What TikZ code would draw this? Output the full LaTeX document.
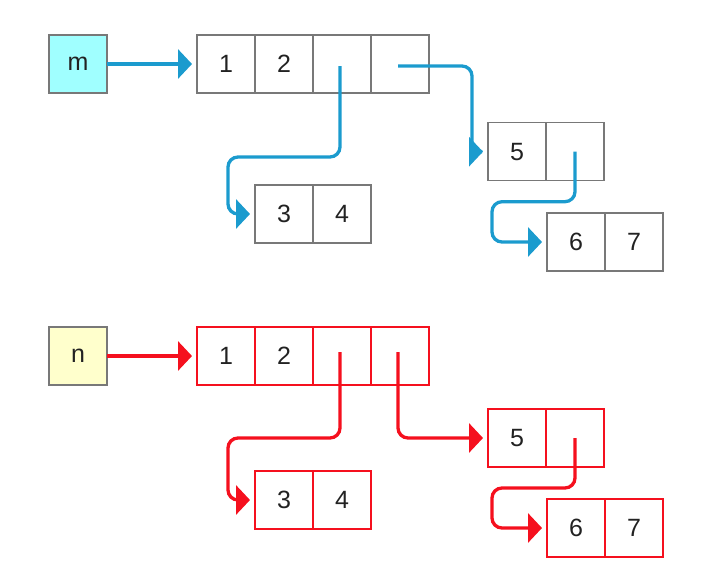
\documentclass[tikz,border=0pt]{standalone}
\usepackage{fontspec}
\setsansfont{Liberation Sans}
\usetikzlibrary{arrows.meta,positioning}
\definecolor{bl}{HTML}{1B9BCE}
\definecolor{rd}{HTML}{F5101E}
\definecolor{gr}{HTML}{787878}
\definecolor{cy}{HTML}{A0FFFF}
\definecolor{ye}{HTML}{FFFFCC}
\definecolor{tx}{HTML}{222222}

\begin{document}
\begin{tikzpicture}[x=1pt,y=-1pt,font=\sffamily\fontsize{25}{30}\selectfont,text=tx,
  cell/.style={draw=#1,line width=1.3pt,minimum size=58pt,inner sep=0pt,outer sep=0pt},
  ptr/.style={draw=#1,line width=3.3pt,rounded corners=10pt,shorten >=5pt,
    -{Triangle[length=14pt,width=29pt]}}]
  \useasboundingbox (0,0) rectangle (706,578);
  % m
  \node[cell=gr,fill=cy] (m) at (78,64) {m};
  \node[cell=gr] (a1) at (226,64) {1};
  \node[cell=gr,right=0pt of a1] (a2) {2};
  \node[cell=gr,right=0pt of a2] (a3) {};
  \node[cell=gr,right=0pt of a3] (a4) {};
  \node[cell=gr] (c3) at (284,214) {3};
  \node[cell=gr,right=0pt of c3] (c4) {4};
  \node[cell=gr] (b5) at (517,151.7) {5};
  \node[cell=gr,right=0pt of b5] (b6) {};
  \node[cell=gr] (d6) at (576,242) {6};
  \node[cell=gr,right=0pt of d6] (d7) {7};
  \draw[ptr=bl] (m) -- (a1);
  \draw[ptr=bl] ([shift={(-2,2)}]a3.center) -- ++(0,91) -| ([xshift=-27pt]c3.west) -- (c3.west);
  \draw[ptr=bl] ([shift={(-2,2)}]a4.center) -| ([xshift=-16pt]b5.west) [sharp corners] -- (b5.west);
  \draw[ptr=bl] (b6.center) -- ++(0,50) -| ([xshift=-55pt]d6.west) -- (d6.west);
  % n
  \node[cell=gr,fill=ye] (n) at (78,356) {n};
  \node[cell=rd] (na1) at (226,356) {1};
  \node[cell=rd,right=0pt of na1] (na2) {2};
  \node[cell=rd,right=0pt of na2] (na3) {};
  \node[cell=rd,right=0pt of na3] (na4) {};
  \node[cell=rd] (nc3) at (284,500) {3};
  \node[cell=rd,right=0pt of nc3] (nc4) {4};
  \node[cell=rd] (nb5) at (517,438) {5};
  \node[cell=rd,right=0pt of nb5] (nb6) {};
  \node[cell=rd] (nd6) at (576,528) {6};
  \node[cell=rd,right=0pt of nd6] (nd7) {7};
  \draw[ptr=rd] (n) -- (na1);
  \draw[ptr=rd] ([shift={(-2,-4)}]na3.center) -- ++(0,86) -| ([xshift=-27pt]nc3.west) -- (nc3.west);
  \draw[ptr=rd] ([shift={(-2,-4)}]na4.center) |- (nb5.west);
  \draw[ptr=rd] (nb6.center) -- ++(0,50) -| ([xshift=-55pt]nd6.west) -- (nd6.west);
\end{tikzpicture}
\end{document}
